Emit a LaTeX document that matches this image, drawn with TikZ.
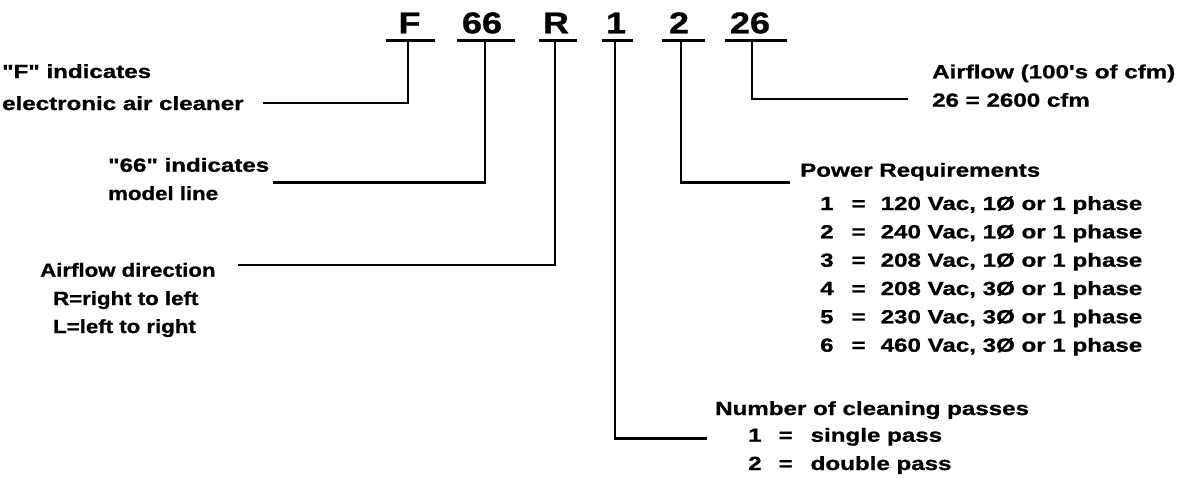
\documentclass[tikz,border=0pt]{standalone}
\usepackage{fontspec}
\newfontfamily\lbl{Liberation Sans}[FakeStretch=1.27,FakeBold=1]
\newfontfamily\lblnarrow{Liberation Sans}[FakeStretch=1.17,FakeBold=1]
\newfontfamily\codefont{Liberation Sans}[FakeStretch=1.2,FakeBold=1]
\begin{document}
\begin{tikzpicture}[x=1pt,y=-1pt,
  lab/.style={anchor=base west, inner sep=0pt, font=\lbl\bfseries\fontsize{19}{23}\selectfont},
  labn/.style={anchor=base west, inner sep=0pt, font=\lblnarrow\bfseries\fontsize{19}{23}\selectfont},
  code/.style={anchor=base, inner sep=0pt, font=\codefont\bfseries\fontsize{30}{36}\selectfont},
  wire/.style={line width=2.6pt, line join=miter},
  uline/.style={line width=2.6pt}]
\useasboundingbox (0,0) rectangle (1182,493);

% code letters
\node[code] (cF)  at (409.5,33.3) {F};
\node[code] (c66) at (482,33.3) {66};
\node[code] (cR)  at (556,33.3) {R};
\node[code] (c1)  at (616,33.3) {1};
\node[code] (c2)  at (679,33.3) {2};
\node[code] (c26) at (750,33.3) {26};

% underlines
\coordinate (uFl) at (386,40.7);  \coordinate (uFr) at (435,40.7);
\coordinate (u66l) at (457,40.7); \coordinate (u66r) at (515,40.7);
\coordinate (uRl) at (539,40.7);  \coordinate (uRr) at (577,40.7);
\coordinate (u1l) at (602,40.7);  \coordinate (u1r) at (633,40.7);
\coordinate (u2l) at (662,40.7);  \coordinate (u2r) at (705,40.7);
\coordinate (u26l) at (725,40.7); \coordinate (u26r) at (787,40.7);
\foreach \n in {F,66,R,1,2,26} \draw[uline] (u\n l) -- (u\n r);

% connector start points
\coordinate (uF)  at (408,40.7);
\coordinate (u66) at (485,40.7);
\coordinate (uR)  at (555,40.7);
\coordinate (u1)  at (615,40.7);
\coordinate (u2)  at (681,40.7);
\coordinate (u26) at (752,40.7);
% connector free ends
\coordinate (eF)  at (263,103);
\coordinate (e66) at (273,182.7);
\coordinate (eR)  at (238,265);
\coordinate (e1)  at (707,438.3);
\coordinate (e2)  at (790,182.5);
\coordinate (e26) at (908,99);

\draw[wire] (uF)  |- (eF);
\draw[wire] (u66) |- (e66);
\draw[wire] (uR)  |- (eR);
\draw[wire] (u1)  |- (e1);
\draw[wire] (u2)  |- (e2);
\draw[wire] (u26) |- (e26);

% left labels
\node[lab] (f1) at (2,78) {"F" indicates};
\node[lab] (f2) at (2,110) {electronic air cleaner};
\node[lab] (m1) at (108,171.7) {"66" indicates};
\node[labn] (m2) at (108,200) {model line};
\node[labn] (a1) at (40,276.7) {Airflow direction};
\node[labn] (a2) at (53,305) {R=right to left};
\node[labn] (a3) at (53,333) {L=left to right};

% right labels
\node[lab] (q1) at (932,78.3) {Airflow (100's of cfm)};
\node[lab] (q2) at (932,106.7) {26 = 2600 cfm};

\node[lab] (p0) at (800,176.7) {Power Requirements};
\node[lab] (p1) at (820,210)   {1\hspace{18pt}=\hspace{15pt}120 Vac, 1Ø or 1 phase};
\node[lab] (p2) at (820,238.3) {2\hspace{18pt}=\hspace{15pt}240 Vac, 1Ø or 1 phase};
\node[lab] (p3) at (820,266.7) {3\hspace{18pt}=\hspace{15pt}208 Vac, 1Ø or 1 phase};
\node[lab] (p4) at (820,295)   {4\hspace{18pt}=\hspace{15pt}208 Vac, 3Ø or 1 phase};
\node[lab] (p5) at (820,323.3) {5\hspace{18pt}=\hspace{15pt}230 Vac, 3Ø or 1 phase};
\node[lab] (p6) at (820,351.7) {6\hspace{18pt}=\hspace{15pt}460 Vac, 3Ø or 1 phase};

\node[lab] (n0) at (715,415)   {Number of cleaning passes};
\node[lab] (n1) at (748,441.7) {1\hspace{17pt}=\hspace{18pt}single pass};
\node[lab] (n2) at (748,470)   {2\hspace{17pt}=\hspace{18pt}double pass};
\end{tikzpicture}
\end{document}
